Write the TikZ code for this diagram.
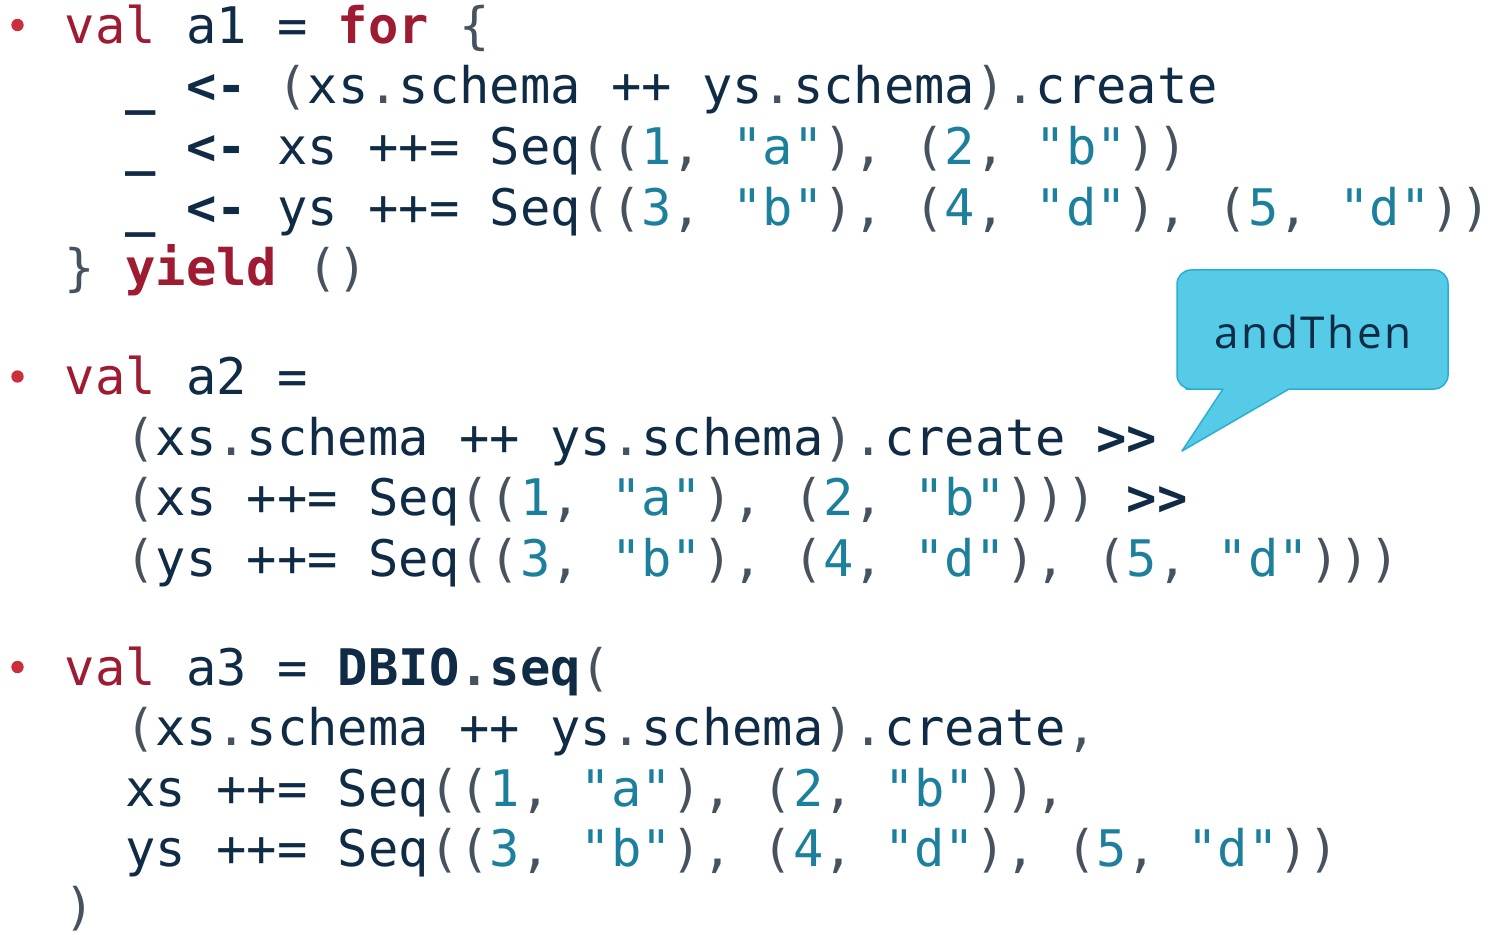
\documentclass[tikz,border=0pt]{standalone}
\usepackage{fontspec}
\setmonofont{DejaVu Sans Mono}
\newfontfamily\callfont[LetterSpace=6]{Open Sans}

\definecolor{navy}{HTML}{102B45}
\definecolor{kwred}{HTML}{9E1B32}
\definecolor{bulletred}{HTML}{CC2E3C}
\definecolor{punct}{HTML}{46535F}
\definecolor{lit}{HTML}{1C809C}
\definecolor{calloutfill}{HTML}{55CBE8}
\definecolor{calloutline}{HTML}{2AAED3}

% token colouring
\newcommand{\Kw}[1]{\textcolor{kwred}{#1}}
\newcommand{\KwB}[1]{\textcolor{kwred}{\bfseries #1}}
\newcommand{\Pn}[1]{\textcolor{punct}{#1}}
\newcommand{\Lt}[1]{\textcolor{lit}{#1}}
\newcommand{\Op}[1]{{\bfseries #1}}

\tikzset{
  code/.style={anchor=base west, inner sep=0pt, text=navy,
    font={\ttfamily\fontsize{25.2pt}{30pt}\selectfont}},
  bullet/.style={circle, fill=bulletred, inner sep=0pt, minimum size=6.2pt},
  callout/.style={fill=calloutfill, draw=calloutline, line width=0.75pt, line join=round},
  callouttext/.style={anchor=base, inner sep=0pt, text=navy,
    font={\callfont\fontsize{22pt}{26pt}\selectfont}}
}

\begin{document}
\begin{tikzpicture}[x=0.5pt, y=-0.5pt]
\useasboundingbox (0,0) rectangle (1491,935);

% column origins: col0 = 64.5, col2 = 125.2
% ---- first example: for-comprehension
\node[bullet] (b1) at (17.5,25) {};
\node[code] (a1l1) at (64.5,43.3) {\Kw{val} a1 = \KwB{for} \Pn{\{}};
\node[code] (a1l2) at (125.2,103.9) {\Op{\_} \Op{<-} \Pn{(}xs\Pn{.}schema ++ ys\Pn{.}schema\Pn{).}create};
\node[code] (a1l3) at (125.2,164.5) {\Op{\_} \Op{<-} xs ++= Seq\Pn{((}\Lt{1}\Pn{,} \Lt{"a"}\Pn{),} \Pn{(}\Lt{2}\Pn{,} \Lt{"b"}\Pn{))}};
\node[code] (a1l4) at (125.2,225.1) {\Op{\_} \Op{<-} ys ++= Seq\Pn{((}\Lt{3}\Pn{,} \Lt{"b"}\Pn{),} \Pn{(}\Lt{4}\Pn{,} \Lt{"d"}\Pn{),} \Pn{(}\Lt{5}\Pn{,} \Lt{"d"}\Pn{))}};
\node[code] (a1l5) at (64.5,285.7) {\Pn{\}} \KwB{yield} \Pn{()}};

% ---- second example: chained with >>
\node[bullet] (b2) at (17.5,376.5) {};
\node[code] (a2l1) at (64.5,394.5) {\Kw{val} a2 =};
\node[code] (a2l2) at (125.2,455.1) {\Pn{(}xs\Pn{.}schema ++ ys\Pn{.}schema\Pn{).}create \Op{>>}};
\node[code] (a2l3) at (125.2,515.7) {\Pn{(}xs ++= Seq\Pn{((}\Lt{1}\Pn{,} \Lt{"a"}\Pn{),} \Pn{(}\Lt{2}\Pn{,} \Lt{"b"}\Pn{)))} \Op{>>}};
\node[code] (a2l4) at (125.2,576.3) {\Pn{(}ys ++= Seq\Pn{((}\Lt{3}\Pn{,} \Lt{"b"}\Pn{),} \Pn{(}\Lt{4}\Pn{,} \Lt{"d"}\Pn{),} \Pn{(}\Lt{5}\Pn{,} \Lt{"d"}\Pn{)))}};

% ---- third example: DBIO.seq
\node[bullet] (b3) at (17.5,667) {};
\node[code] (a3l1) at (64.5,685) {\Kw{val} a3 = \Op{DBIO}\Pn{\bfseries .}\Op{seq}\Pn{(}};
\node[code] (a3l2) at (125.2,745.6) {\Pn{(}xs\Pn{.}schema ++ ys\Pn{.}schema\Pn{).}create\Pn{,}};
\node[code] (a3l3) at (125.2,806.2) {xs ++= Seq\Pn{((}\Lt{1}\Pn{,} \Lt{"a"}\Pn{),} \Pn{(}\Lt{2}\Pn{,} \Lt{"b"}\Pn{)),}};
\node[code] (a3l4) at (125.2,866.8) {ys ++= Seq\Pn{((}\Lt{3}\Pn{,} \Lt{"b"}\Pn{),} \Pn{(}\Lt{4}\Pn{,} \Lt{"d"}\Pn{),} \Pn{(}\Lt{5}\Pn{,} \Lt{"d"}\Pn{))}};
\node[code] (a3l5) at (64.5,924) {\Pn{)}};

% ---- speech bubble pointing at the first >>
\coordinate (tip) at (1182,451);
\draw[callout] (1223,389) -- (tip) -- (1289,389) -- (1300,389)
  [rounded corners=7pt] -- (1448,389) -- (1448,270) -- (1177,270) -- (1177,389) -- (1200,389)
  [sharp corners] -- cycle;
\node[callouttext] (andthen) at (1313,348) {andThen};
\end{tikzpicture}
\end{document}
